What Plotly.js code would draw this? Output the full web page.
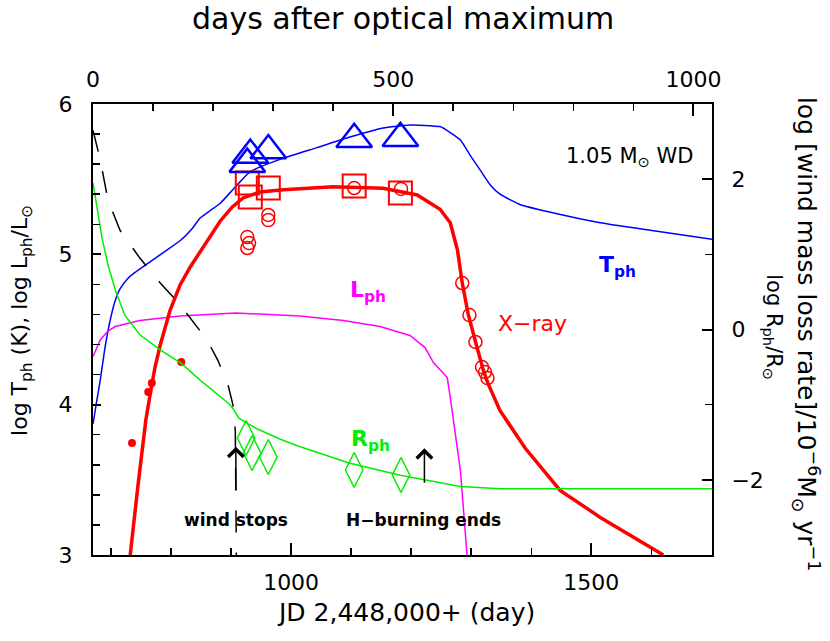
<!DOCTYPE html>
<html><head><meta charset="utf-8">
<script src="https://cdn.plot.ly/plotly-3.0.1.min.js"></script>
<style>html,body{margin:0;padding:0;background:#fff}</style>
</head><body>
<div id="chart" style="width:830px;height:641px"></div>
<script>
// ---- data (JD 2,448,000+) ----
const tphJD  = [670,676,682,690,698,706,715,728,740,765,790,815,835,848,865,882,903,932,987,1043,1098,1153,1198,1232,1248,1265,1282,1298,1315,1332,1348,1382,1432,1515,1598,1701];
const tphVal = [3.87,4.02,4.16,4.38,4.55,4.68,4.77,4.84,4.88,4.95,5.02,5.09,5.17,5.24,5.29,5.34,5.43,5.55,5.64,5.71,5.78,5.84,5.86,5.855,5.85,5.81,5.76,5.66,5.56,5.46,5.40,5.33,5.28,5.21,5.16,5.10];

const lphJD  = [670,676,682,695,707,748,815,907,1015,1087,1148,1198,1223,1237,1250,1260,1265,1270,1276,1282,1293,1297];
const lphVal = [4.32,4.38,4.43,4.49,4.52,4.56,4.59,4.61,4.59,4.56,4.52,4.46,4.38,4.28,4.22,4.18,4.05,3.90,3.72,3.56,3.0,2.7];

const rphJD  = [670,677,685,695,707,723,748,782,817,848,882,897,903,913,927,943,982,1015,1098,1182,1282,1348,1515,1701];
const rphVal = [1.95,1.62,1.22,0.86,0.53,0.19,-0.07,-0.27,-0.45,-0.67,-0.90,-0.99,-1.05,-1.18,-1.25,-1.32,-1.46,-1.56,-1.78,-1.94,-2.09,-2.12,-2.12,-2.12];

const windJD  = [670,682,695,715,748,782,815,840,860,878,895,903,907,909];
const windVal = [2.65,2.26,1.72,1.32,0.95,0.62,0.33,0.06,-0.14,-0.41,-0.74,-1.00,-1.34,-3.2];

const xrayJD  = [732,738,745,752,758,765,773,782,790,798,807,815,832,848,865,882,902,920,948,987,1070,1153,1210,1248,1265,1277,1285,1295,1307,1320,1328,1348,1390,1448,1515,1570,1620];
const xrayVal = [3.0,3.233,3.466,3.698,3.898,4.064,4.244,4.397,4.52,4.623,4.716,4.796,4.916,5.016,5.122,5.222,5.315,5.375,5.415,5.43,5.45,5.44,5.395,5.30,5.21,5.03,4.81,4.60,4.42,4.23,4.14,3.96,3.71,3.43,3.25,3.12,3.0];

const dotJD  = [735,762,768,817];
const dotVal = [3.745,4.084,4.144,4.284];

const circJD  = [927,930,927,962,962,1105,1183,1285,1297,1307,1318,1323,1327];
const circVal = [5.115,5.075,5.042,5.262,5.228,5.441,5.435,4.809,4.596,4.417,4.25,4.217,4.177];

const sqJD  = [927,932,962,1105,1182];
const sqVal = [5.475,5.381,5.441,5.455,5.408];

const triJD  = [927,932,962,1105,1182];
const triVal = [5.60,5.66,5.69,5.765,5.772];

const diaJD  = [925,935,962,1105,1183];
const diaVal = [-1.443,-1.643,-1.696,-1.869,-1.936];

const jdRange   = [670, 1701];
const daysRange = [0, 1031];
const leftRange = [3, 6];
const rightRange = [-3, 3];

const F = "DejaVu Sans, sans-serif";
const RED = "#ff0000", BLUE = "#0000ff", GREEN = "#00ee00", MAG = "#ff00ff";

const traces = [
  {x: tphJD, y: tphVal, mode: "lines", line: {color: BLUE, width: 1.5, shape: "spline", smoothing: 0.5}, xaxis: "x", yaxis: "y"},
  {x: lphJD, y: lphVal, mode: "lines", line: {color: MAG, width: 1.5}, xaxis: "x", yaxis: "y"},
  {x: rphJD, y: rphVal, mode: "lines", line: {color: GREEN, width: 1.5}, xaxis: "x", yaxis: "y2"},
  {x: windJD, y: windVal, mode: "lines", line: {color: "#000", width: 1.5, dash: "22px,20px"}, xaxis: "x", yaxis: "y2"},
  {x: xrayJD, y: xrayVal, mode: "lines", line: {color: RED, width: 3.5}, xaxis: "x", yaxis: "y"},
  {x: dotJD, y: dotVal, mode: "markers", marker: {color: RED, size: 8, symbol: "circle"}, xaxis: "x", yaxis: "y"},
  {x: circJD, y: circVal, mode: "markers", marker: {size: 13, symbol: "circle-open", color: RED, line: {color: RED, width: 1.5}}, xaxis: "x", yaxis: "y"},
  {x: sqJD, y: sqVal, mode: "markers", marker: {size: 23, symbol: "square-open", color: RED, line: {color: RED, width: 2}}, xaxis: "x", yaxis: "y"},
  {x: triJD, y: triVal, mode: "markers", marker: {size: 31, symbol: "triangle-up-open", color: BLUE, line: {color: BLUE, width: 2.5}}, xaxis: "x", yaxis: "y"},
  {x: diaJD, y: diaVal, mode: "markers", marker: {size: 25, symbol: "diamond-tall-open", color: GREEN, line: {color: GREEN, width: 1.5}}, xaxis: "x", yaxis: "y2"},
  {x: [daysRange[0]], y: [null], mode: "markers", xaxis: "x2", yaxis: "y", hoverinfo: "skip"}
];

const axisCommon = {
  showline: true, linecolor: "#000", linewidth: 2, mirror: false,
  showgrid: false, zeroline: false,
  ticks: "inside", tickcolor: "#000", tickwidth: 2, ticklen: 12,
  tickfont: {family: F, size: 22, color: "#000"}
};

const layout = {
  width: 830, height: 641,
  margin: {l: 93, r: 118, t: 104, b: 86},
  paper_bgcolor: "#fff", plot_bgcolor: "#fff",
  showlegend: false,
  font: {family: F, color: "#000"},
  xaxis: Object.assign({}, axisCommon, {range: jdRange, tick0: 0, dtick: 500, side: "bottom", anchor: "y",
    ticklabelstandoff: 7,
    minor: {ticks: "inside", dtick: 100, tick0: 0, ticklen: 7, tickwidth: 1.5, tickcolor: "#000"}}),
  xaxis2: Object.assign({}, axisCommon, {range: daysRange, tick0: 0, dtick: 500, side: "top", overlaying: "x", anchor: "y",
    ticklabelstandoff: 6,
    minor: {ticks: "inside", dtick: 100, tick0: 0, ticklen: 7, tickwidth: 1.5, tickcolor: "#000"}}),
  yaxis: Object.assign({}, axisCommon, {range: leftRange, dtick: 1, tick0: 0, side: "left", ticklen: 8,
    ticklabelstandoff: 14,
    minor: {ticks: "inside", dtick: 0.2, tick0: 0, ticklen: 7, tickwidth: 1.5, tickcolor: "#000"}}),
  yaxis2: Object.assign({}, axisCommon, {range: rightRange, dtick: 2, tick0: 0, side: "right", overlaying: "y", ticklen: 10,
    ticklabelstandoff: 13,
    minor: {ticks: "inside", dtick: 1, tick0: 0, ticklen: 7, tickwidth: 1.5, tickcolor: "#000"}}),
  annotations: [
    {xref: "paper", yref: "paper", x: 0.5008, y: 1.19, text: "days after optical maximum", showarrow: false,
     font: {family: F, size: 30, color: "#000"}, xanchor: "center", yanchor: "middle"},
    {xref: "paper", yref: "paper", x: 0.5057, y: -0.128, text: "JD 2,448,000+ (day)", showarrow: false,
     font: {family: F, size: 25, color: "#000"}, xanchor: "center", yanchor: "middle"},
    {xref: "paper", yref: "paper", x: -0.1147, y: 0.519, text: "log T<sub>ph</sub> (K), log L<sub>ph</sub>/L<sub>⊙</sub>", showarrow: false,
     textangle: -90, font: {family: F, size: 22, color: "#000"}, xanchor: "center", yanchor: "middle"},
    {xref: "paper", yref: "paper", x: 1.152, y: 0.490, text: "log [wind mass loss rate]/10<sup>−6</sup>M<sub>⊙</sub> yr<sup>−1</sup>", showarrow: false,
     textangle: 90, font: {family: F, size: 25, color: "#000"}, xanchor: "center", yanchor: "middle"},
    {xref: "paper", yref: "paper", x: 1.0986, y: 0.505, text: "log R<sub>ph</sub>/R<sub>⊙</sub>", showarrow: false,
     textangle: 90, font: {family: F, size: 21, color: "#000"}, xanchor: "center", yanchor: "middle"},
    {xref: "x", yref: "y", x: 1565, y: 5.647, text: "1.05 M<sub>⊙</sub> WD", showarrow: false,
     font: {family: F, size: 21, color: "#000"}, xanchor: "center", yanchor: "middle"},
    {xref: "x", yref: "y", x: 1543, y: 4.92, text: "<b>T<sub>ph</sub></b>", showarrow: false,
     font: {family: F, size: 22, color: BLUE}, xanchor: "center", yanchor: "middle"},
    {xref: "x", yref: "y", x: 1128, y: 4.75, text: "<b>L<sub>ph</sub></b>", showarrow: false,
     font: {family: F, size: 22, color: MAG}, xanchor: "center", yanchor: "middle"},
    {xref: "x", yref: "y", x: 1402, y: 4.54, text: "X−ray", showarrow: false,
     font: {family: F, size: 22, color: RED}, xanchor: "center", yanchor: "middle"},
    {xref: "x", yref: "y2", x: 1132, y: -1.47, text: "<b>R<sub>ph</sub></b>", showarrow: false,
     font: {family: F, size: 22, color: GREEN}, xanchor: "center", yanchor: "middle"},
    {xref: "x", yref: "y", x: 908, y: 3.233, text: "<b>wind stops</b>", showarrow: false,
     font: {family: F, size: 17, color: "#000"}, xanchor: "center", yanchor: "middle"},
    {xref: "x", yref: "y", x: 1220, y: 3.233, text: "<b>H−burning ends</b>", showarrow: false,
     font: {family: F, size: 17, color: "#000"}, xanchor: "center", yanchor: "middle"},
    {xref: "x", yref: "y2", x: 908, y: -1.56, ax: 0, ay: 45, text: "", showarrow: true,
     arrowhead: 4, arrowsize: 2, arrowwidth: 1.5, arrowcolor: "#000"},
    {xref: "x", yref: "y2", x: 1222, y: -1.58, ax: 0, ay: 36, text: "", showarrow: true,
     arrowhead: 4, arrowsize: 2, arrowwidth: 1.5, arrowcolor: "#000"}
  ]
};

Plotly.newPlot("chart", traces, layout, {staticPlot: true, displayModeBar: false});
</script>
</body></html>
